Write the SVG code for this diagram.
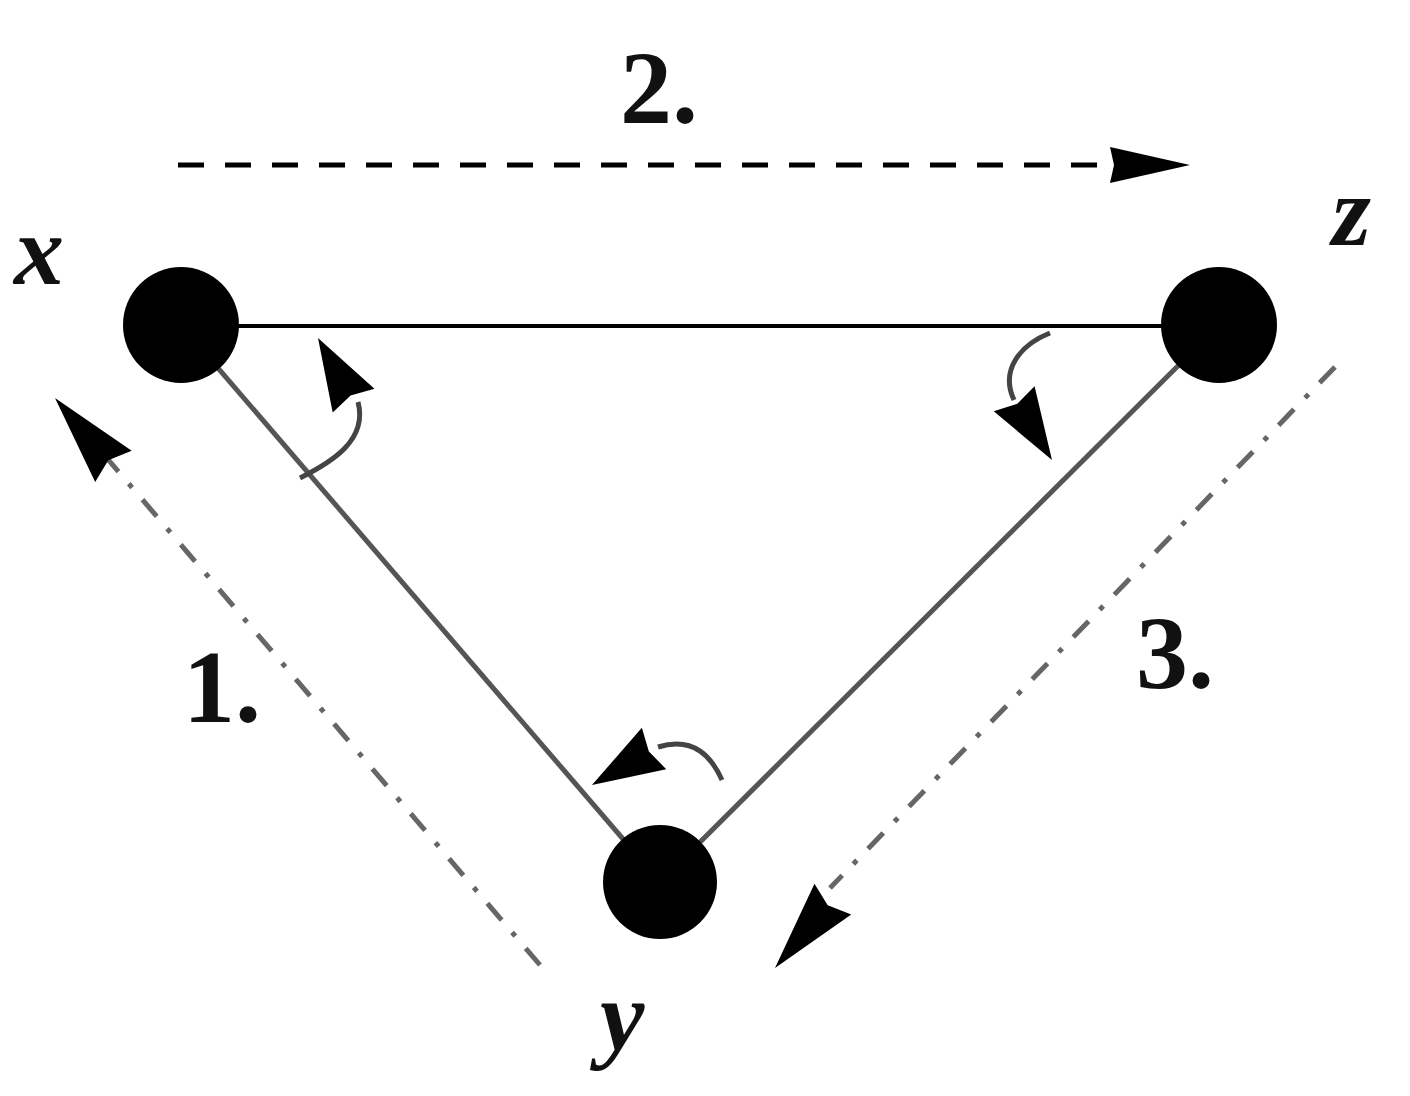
<svg xmlns="http://www.w3.org/2000/svg" width="1410" height="1096" viewBox="0 0 1410 1096">
<style>
.node{fill:#000}
.edge{stroke:#555;stroke-width:5;fill:none}
.top{stroke:#000;stroke-width:4;fill:none}
.dash{stroke:#000;stroke-width:5;fill:none;stroke-dasharray:26 21}
.ddash{stroke:#666;stroke-width:5;fill:none;stroke-dasharray:22 16 5 16}
.curve{stroke:#444;stroke-width:5;fill:none}
.ah{fill:#000}
.num{font-family:"Liberation Serif",serif;font-weight:bold;font-size:104px;fill:#111}
.var{font-family:"Liberation Serif",serif;font-style:italic;font-weight:bold;font-size:100px;fill:#111}
</style>
<defs>
<path id="bigHead" d="M0,0 L-80,-18 L-76,0 L-80,18 Z"/>
<path id="diagHead" d="M0,0 L-90,-24 L-82,0 L-90,24 Z"/>
<path id="smallHead" d="M0,0 L-72,-24 L-66,0 L-72,24 Z"/>
</defs>
<rect width="1410" height="1096" fill="#fff"/>
<g id="connectors">
<line class="top" x1="181" y1="326" x2="1219" y2="326"/>
<line class="edge" x1="181" y1="325" x2="660" y2="882"/>
<line class="edge" x1="1219" y1="325" x2="660" y2="882"/>
<line class="dash" x1="178" y1="165" x2="1120" y2="165"/>
<use href="#bigHead" class="ah" transform="translate(1190,165)"/>
<line class="ddash" x1="540" y1="965" x2="100" y2="450"/>
<use href="#diagHead" class="ah" transform="translate(55,398) rotate(-130.5)"/>
<line class="ddash" x1="1335" y1="367" x2="830" y2="888"/>
<use href="#diagHead" class="ah" transform="translate(775,968) rotate(130)"/>
<path class="curve" d="M300,478 C332,462 368,440 358,402"/>
<use href="#smallHead" class="ah" transform="translate(318,338) rotate(-119.6)"/>
<path class="curve" d="M1050,333 C1020,345 1000,370 1014,400"/>
<use href="#smallHead" class="ah" transform="translate(1052,460) rotate(58.3)"/>
<path class="curve" d="M722,780 C712,758 695,736 658,747"/>
<use href="#smallHead" class="ah" transform="translate(592,785) rotate(149.5)"/>
</g>
<g id="node-x">
<circle class="node" cx="181" cy="325" r="58"/>
<text class="var" x="14" y="284">x</text>
</g>
<g id="node-z">
<circle class="node" cx="1219" cy="325" r="58"/>
<text class="var" x="1332" y="245">z</text>
</g>
<g id="node-y">
<circle class="node" cx="660" cy="882" r="57"/>
<text class="var" x="600" y="1050">y</text>
</g>
<g id="labels">
<text class="num" x="620" y="123">2.</text>
<text class="num" x="183" y="722">1.</text>
<text class="num" x="1136" y="688">3.</text>
</g>
</svg>
